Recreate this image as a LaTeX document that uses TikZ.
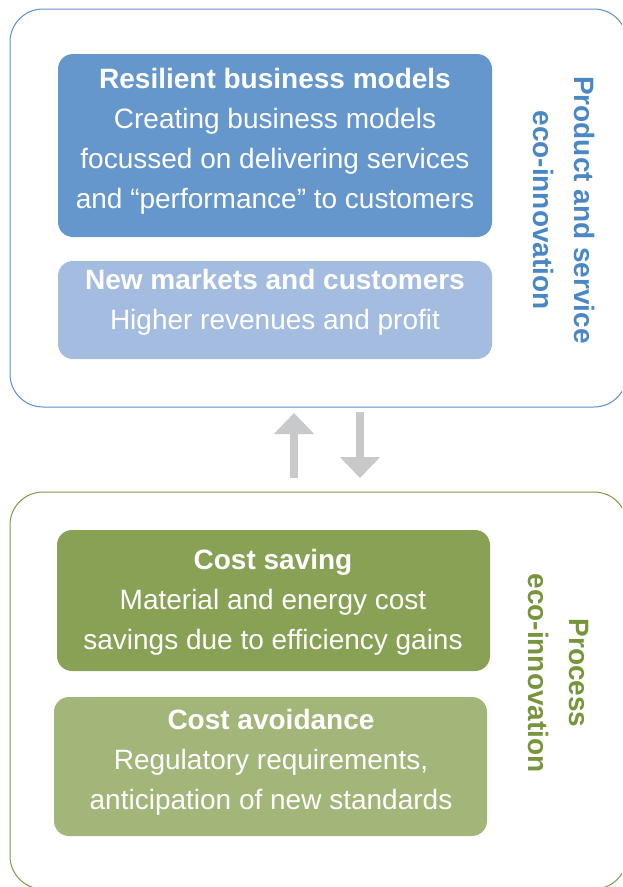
\documentclass[tikz,border=0pt]{standalone}
\usepackage{fontspec}
\setmainfont{Liberation Sans}
\usetikzlibrary{arrows.meta}
\definecolor{bluedark}{HTML}{6596CC}
\definecolor{bluelight}{HTML}{A4BCE0}
\definecolor{blueline}{HTML}{5B8ECB}
\definecolor{bluetext}{HTML}{4A87C6}
\definecolor{greendark}{HTML}{88A155}
\definecolor{greenlight}{HTML}{A3B679}
\definecolor{greenline}{HTML}{7B9A48}
\definecolor{greentext}{HTML}{77953B}
\definecolor{arrowgray}{HTML}{C8C9CB}
\tikzset{
  outerbox/.style={rounded corners=33pt, line width=1pt},
  card/.style={rounded corners=15pt},
  cardtext/.style={text=white, align=center, font=\fontsize{28}{40}\selectfont, inner sep=0pt},
  sidelabel/.style={align=center, font=\fontsize{28}{41}\selectfont\bfseries, rotate=-90, inner sep=0pt},
  flowarrow/.style={draw=arrowgray, line width=8pt, -{Triangle[width=39pt,length=21pt]}, arrowgray}
}
\begin{document}
\begin{tikzpicture}[x=1pt,y=-1pt]
\useasboundingbox (0,0) rectangle (622,887);
\clip (0,0) rectangle (622,887);
% outer frames
\draw[outerbox, draw=blueline] (10,9) rectangle (627,407);
\draw[outerbox, draw=greenline] (10,492) rectangle (627,889);
% cards
\fill[card, bluedark] (58,54) rectangle (492,237);
\fill[card, bluelight] (58,261) rectangle (492,359);
\fill[card, greendark] (57,530) rectangle (490,671);
\fill[card, greenlight] (54,697) rectangle (487,836);
% card texts
\node[cardtext] (resilient) at (275,141) {\textbf{Resilient business models}\\Creating business models\\focussed on delivering services\\and “performance” to customers};
\node[cardtext] (markets) at (275,302) {\textbf{New markets and customers}\\Higher revenues and profit};
\node[cardtext] (saving) at (273,602) {\textbf{Cost saving}\\Material and energy cost\\savings due to efficiency gains};
\node[cardtext] (avoidance) at (271,762) {\textbf{Cost avoidance}\\Regulatory requirements,\\anticipation of new standards};
% side labels
\node[sidelabel, text=bluetext] (product) at (564,210) {Product and service\\eco-innovation};
\node[sidelabel, text=greentext] (process) at (558,673) {Process\\eco-innovation};
% arrows
\coordinate (upstart) at (294,478);
\coordinate (upend) at (294,413);
\coordinate (downstart) at (360,412);
\coordinate (downend) at (360,478);
\draw[flowarrow] (upstart) -- (upend);
\draw[flowarrow] (downstart) -- (downend);
\end{tikzpicture}
\end{document}
